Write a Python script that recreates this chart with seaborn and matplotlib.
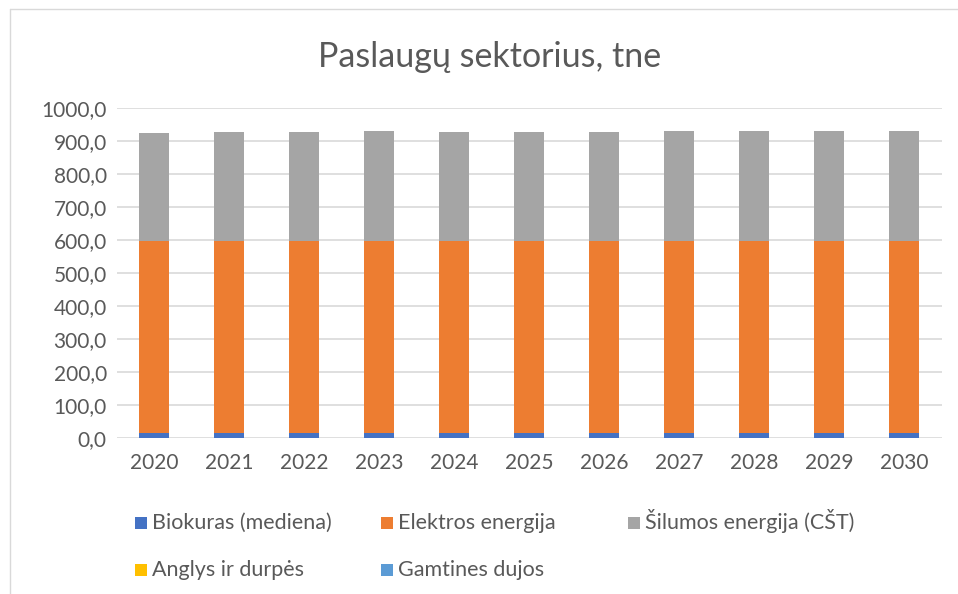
import numpy as np
import pandas as pd
import matplotlib
matplotlib.use("Agg")
import matplotlib.pyplot as plt
import seaborn as sns
from matplotlib.patches import Rectangle
from matplotlib.lines import Line2D
from matplotlib.ticker import FuncFormatter

# ==========================================================
# DATA
# ==========================================================

years = ["2020", "2021", "2022", "2023", "2024", "2025",
         "2026", "2027", "2028", "2029", "2030"]

biokuras = [14, 14, 14, 14, 14, 14, 14, 14, 14, 14, 14]
elektros = [582, 583, 583, 583, 583, 583, 583, 583, 583, 583, 583]
silumos = [328, 330, 330, 332, 331, 331, 331, 332, 332, 332, 332]
anglys = [0, 0, 0, 0, 0, 0, 0, 0, 0, 0, 0]
gamtines = [0, 0, 0, 0, 0, 0, 0, 0, 0, 0, 0]

series_names = ["Biokuras (mediena)", "Elektros energija",
                "Šilumos energija (CŠT)", "Anglys ir durpės",
                "Gamtines dujos"]
series_colors = ["#4472C4", "#ED7D31", "#A5A5A5", "#FFC000", "#5B9BD5"]

df = pd.DataFrame({
    "year": years,
    "bio": biokuras,
    "elek": elektros,
    "sil": silumos,
    "angl": anglys,
    "gamt": gamtines,
})

# cumulative stacks
df["c1"] = df["bio"]
df["c2"] = df["c1"] + df["elek"]
df["c3"] = df["c2"] + df["sil"]
df["c4"] = df["c3"] + df["angl"]
df["c5"] = df["c4"] + df["gamt"]

# ==========================================================
# PLOT
# ==========================================================

sns.set_style("white")
plt.rcParams["font.family"] = ["Lato", "DejaVu Sans"]

text_color = "#595959"
W, H = 958, 594

fig = plt.figure(figsize=(9.58, 5.94), dpi=100)
ax = fig.add_axes([116.5 / W, 1 - 438 / H, (941.5 - 116.5) / W, 330 / H])

for col, color in zip(["c5", "c4", "c3", "c2", "c1"],
                      series_colors[::-1]):
    sns.barplot(data=df, x="year", y=col, color=color, width=0.4,
                saturation=1, ax=ax, edgecolor="none", linewidth=0)

ax.set_ylim(0, 1000)
ax.set_yticks(np.arange(0, 1001, 100))
ax.yaxis.set_major_formatter(
    FuncFormatter(lambda v, p: f"{v:.1f}".replace(".", ","))
)
ax.set_xlabel("")
ax.set_ylabel("")
ax.grid(axis="y", color="#D9D9D9", linewidth=1.2)
ax.set_axisbelow(True)
for s in ax.spines.values():
    s.set_visible(False)
ax.tick_params(axis="both", length=0, labelsize=15, colors=text_color,
               pad=7)
ax.tick_params(axis="x", pad=11)

fig.text(490 / W, 1 - 57 / H, "Paslaugų sektorius, tne", ha="center",
         va="center", fontsize=24.5, color=text_color)

# legend: fixed columns, filled row-wise (same baseline for every entry)
col_x = [135, 381, 628, 135, 381]
row_y = [523, 523, 523, 570, 570]
for name, color, x0, y0 in zip(series_names, series_colors, col_x, row_y):
    fig.add_artist(Rectangle((x0 / W, 1 - (y0 + 6) / H), 12 / W, 12 / H,
                             facecolor=color, edgecolor="none",
                             transform=fig.transFigure))
    fig.text((x0 + 17) / W, 1 - (y0 + 6) / H, name, ha="left",
             va="baseline", fontsize=15.5, color=text_color)

# chart border (top and left)
fig.add_artist(Line2D([10 / W, 1], [1 - 9 / H, 1 - 9 / H],
                      color="#D9D9D9", linewidth=1, transform=fig.transFigure))
fig.add_artist(Line2D([10 / W, 10 / W], [0, 1 - 9 / H],
                      color="#D9D9D9", linewidth=1, transform=fig.transFigure))

fig.savefig("out.png", dpi=100, facecolor="white")
